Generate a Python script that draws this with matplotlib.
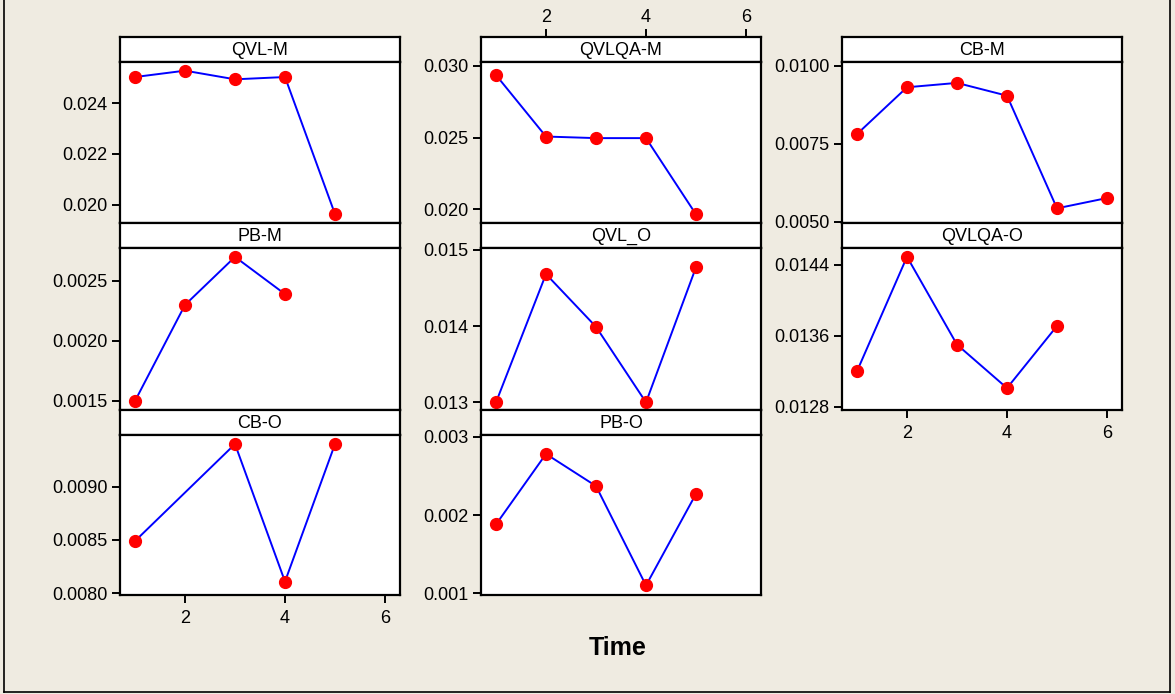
import matplotlib.pyplot as plt
from matplotlib.lines import Line2D

# ---- Data (Time vs. value per panel) ----
panel_names = ['QVL-M', 'QVLQA-M', 'CB-M',
               'PB-M', 'QVL_O', 'QVLQA-O',
               'CB-O', 'PB-O']

time_qvl_m = [1, 2, 3, 4, 5]
qvl_m = [0.02502, 0.02527, 0.02493, 0.02502, 0.01964]

time_qvlqa_m = [1, 2, 3, 4, 5]
qvlqa_m = [0.02935, 0.02507, 0.02496, 0.02496, 0.01965]

time_cb_m = [1, 2, 3, 4, 5, 6]
cb_m = [0.00781, 0.00931, 0.00945, 0.00904, 0.00543, 0.00576]

time_pb_m = [1, 2, 3, 4]
pb_m = [0.00150, 0.00230, 0.00270, 0.00239]

time_qvl_o = [1, 2, 3, 4, 5]
qvl_o = [0.01300, 0.01468, 0.01399, 0.01300, 0.01477]

time_qvlqa_o = [1, 2, 3, 4, 5]
qvlqa_o = [0.01320, 0.01449, 0.01350, 0.01301, 0.01371]

time_cb_o = [1, 3, 4, 5]
cb_o = [0.00849, 0.00940, 0.00811, 0.00940]

time_pb_o = [1, 2, 3, 4, 5]
pb_o = [0.00188, 0.00278, 0.00237, 0.00110, 0.00227]

# y tick labels per panel
yticks_qvl_m = ['0.020', '0.022', '0.024']
yticks_qvlqa_m = ['0.020', '0.025', '0.030']
yticks_cb_m = ['0.0050', '0.0075', '0.0100']
yticks_pb_m = ['0.0015', '0.0020', '0.0025']
yticks_qvl_o = ['0.013', '0.014', '0.015']
yticks_qvlqa_o = ['0.0128', '0.0136', '0.0144']
yticks_cb_o = ['0.0080', '0.0085', '0.0090']
yticks_pb_o = ['0.001', '0.002', '0.003']
xticks_time = [2, 4, 6]

''' Layout helpers '''
W, H = 1175, 694
plt.rcParams['font.family'] = ['Liberation Sans', 'DejaVu Sans']
bg_color = '#efebe1'
fsize = 13


def px_rect(left, top, right, bottom):
    return [left / W, 1 - bottom / H, (right - left) / W, (bottom - top) / H]


def draw_panel(fig, col, row, name, xs, ys, ytick_labels, ylim, xtick_side):
    col_left = [120, 481, 842]
    strip_top = [37, 223, 410]
    strip_bot = [62, 248, 435]
    plot_bot = [223, 410, 595]
    left = col_left[col]
    right = left + 280

    # Strip with panel title
    sax = fig.add_axes(px_rect(left, strip_top[row], right, strip_bot[row]))
    sax.set_xticks([])
    sax.set_yticks([])
    sax.set_facecolor('white')
    for sp in sax.spines.values():
        sp.set_linewidth(1.6)
    sax.text(0.5, 0.47, name, ha='center', va='center', fontsize=fsize,
             transform=sax.transAxes)

    # Data axes
    ax = fig.add_axes(px_rect(left, strip_bot[row], right, plot_bot[row]))
    ax.set_facecolor('white')
    ax.plot(xs, ys, color='blue', linewidth=1.4, zorder=2)
    ax.plot(xs, ys, linestyle='none', marker='o', markersize=8.5,
            color='red', markeredgecolor='red', zorder=3, clip_on=False)
    ax.set_xlim(0.7, 6.3)
    ax.set_ylim(*ylim)
    ax.set_yticks([float(t) for t in ytick_labels])
    ax.set_yticklabels(ytick_labels)
    for sp in ax.spines.values():
        sp.set_linewidth(1.6)
    ax.tick_params(axis='y', direction='out', length=6, width=1.4,
                   labelsize=fsize, pad=3)

    if xtick_side == 'bottom':
        ax.set_xticks(xticks_time)
        ax.tick_params(axis='x', direction='out', length=6, width=1.4,
                       labelsize=fsize, pad=5)
    elif xtick_side == 'top':
        # ticks sit above the strip
        ax.set_xticks([])
        tax = fig.add_axes(px_rect(left, strip_top[row], right,
                                   strip_bot[row]), frameon=False)
        tax.patch.set_alpha(0)
        tax.set_xlim(0.7, 6.3)
        tax.set_yticks([])
        tax.xaxis.tick_top()
        tax.set_xticks(xticks_time)
        tax.tick_params(axis='x', direction='out', length=6, width=1.4,
                        labelsize=fsize, pad=2)
    else:
        ax.set_xticks([])
    return ax


fig = plt.figure(figsize=(W / 100, H / 100), dpi=100)
fig.patch.set_facecolor(bg_color)

draw_panel(fig, 0, 0, panel_names[0], time_qvl_m, qvl_m, yticks_qvl_m,
           (0.01929, 0.02561), None)
draw_panel(fig, 1, 0, panel_names[1], time_qvlqa_m, qvlqa_m, yticks_qvlqa_m,
           (0.01905, 0.03026), 'top')
draw_panel(fig, 2, 0, panel_names[2], time_cb_m, cb_m, yticks_cb_m,
           (0.00496, 0.01012), None)
draw_panel(fig, 0, 1, panel_names[3], time_pb_m, pb_m, yticks_pb_m,
           (0.001425, 0.002774), None)
draw_panel(fig, 1, 1, panel_names[4], time_qvl_o, qvl_o, yticks_qvl_o,
           (0.0129, 0.015022), None)
draw_panel(fig, 2, 1, panel_names[5], time_qvlqa_o, qvlqa_o, yticks_qvlqa_o,
           (0.012763, 0.014589), 'bottom')
draw_panel(fig, 0, 2, panel_names[6], time_cb_o, cb_o, yticks_cb_o,
           (0.007984, 0.009485), 'bottom')
draw_panel(fig, 1, 2, panel_names[7], time_pb_o, pb_o, yticks_pb_o,
           (0.000978, 0.003022), None)

# Axis title
fig.text(618 / W, 1 - 648 / H, 'Time', ha='center', va='center',
         fontsize=18, fontweight='bold')

# Outer frame
for (x0, y0, x1, y1) in [(4, 0, 4, 692), (4, 692, 1170, 692),
                         (1170, 0, 1170, 692)]:
    fig.add_artist(Line2D([x0 / W, x1 / W], [1 - y0 / H, 1 - y1 / H],
                          color='black', linewidth=1.2))

plt.savefig('out.png', dpi=100, facecolor=bg_color)
